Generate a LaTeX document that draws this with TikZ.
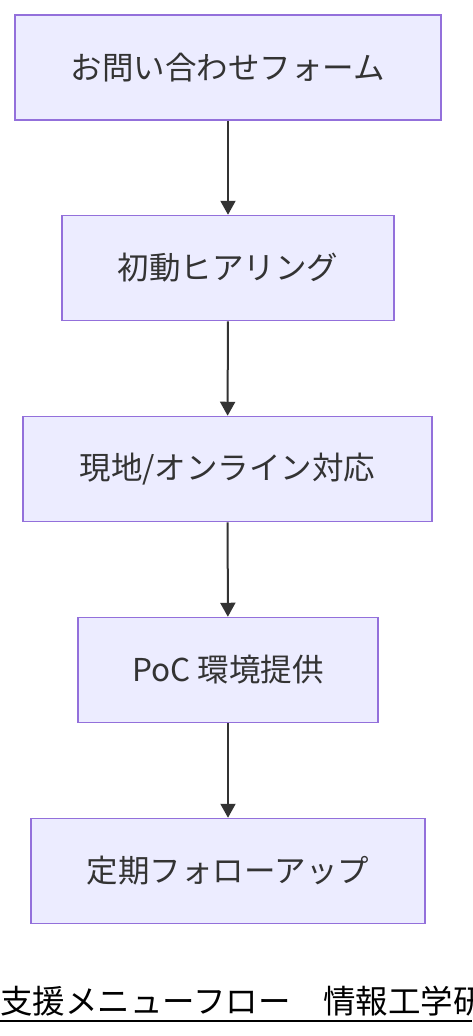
\documentclass[tikz,border=0pt]{standalone}
\usepackage{fontspec}
\newfontfamily\jp{Noto Sans CJK JP}
\usetikzlibrary{arrows.meta}
\definecolor{boxfill}{HTML}{ECECFF}
\definecolor{boxline}{HTML}{9370DB}
\definecolor{txt}{HTML}{333333}
\begin{document}
\begin{tikzpicture}[x=1pt,y=-1pt,
  stepbox/.style={draw=boxline,fill=boxfill,line width=1.5pt,text=txt,
    font=\jp\fontsize{31.5}{36}\selectfont,inner sep=0pt,anchor=center},
  flow/.style={draw=txt,line width=2pt,-{Triangle[length=14pt,width=15pt]}}]
\useasboundingbox (0,0) rectangle (472,1036);
\fill[white] (0,0) rectangle (472,1036);
\node[stepbox,minimum width=426pt,minimum height=105pt] (a) at (228,67.5) {お問い合わせフォーム};
\node[stepbox,minimum width=332pt,minimum height=105pt] (b) at (228,268) {初動ヒアリング};
\node[stepbox,minimum width=409pt,minimum height=105pt] (c) at (227.5,469) {現地/オンライン対応};
\node[stepbox,minimum width=300pt,minimum height=105pt] (d) at (228,670) {PoC 環境提供};
\node[stepbox,minimum width=394pt,minimum height=105pt] (e) at (228,871) {定期フォローアップ};
\draw[flow] (a) -- (b);
\draw[flow] (b) -- (c);
\draw[flow] (c) -- (d);
\draw[flow] (d) -- (e);
\node[anchor=base west,inner sep=0pt,font=\jp\fontsize{32.5}{36}\selectfont,text=black] (t) at (0,1013) {支援メニューフロー　情報工学研};
\coordinate (ul) at (0,1021);
\coordinate (ur) at (472,1021);
\draw[black,line width=2pt] (ul) -- (ur);
\end{tikzpicture}
\end{document}
